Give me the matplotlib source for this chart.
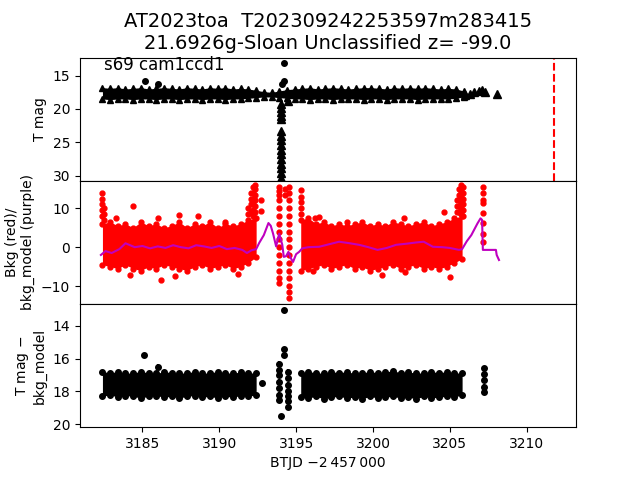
import matplotlib
matplotlib.use("Agg")
import matplotlib.pyplot as plt

# ---- values ----
# top panel: dense band of upper limits (triangles), sampled edges
t_top = [3182.4, 3182.9, 3183.4, 3183.9, 3184.4, 3184.9, 3185.4, 3185.9, 3186.4, 3186.9,
         3187.4, 3187.9, 3188.4, 3188.9, 3189.4, 3189.9, 3190.4, 3190.9, 3191.4, 3191.9,
         3192.4, 3192.9, 3193.4, 3193.9, 3194.4, 3194.9, 3195.4, 3195.9, 3196.4, 3196.9,
         3197.4, 3197.9, 3198.4, 3198.9, 3199.4, 3199.9, 3200.4, 3200.9, 3201.4, 3201.9,
         3202.4, 3202.9, 3203.4, 3203.9, 3204.4, 3204.9, 3205.4, 3205.9]
top_hi = [16.8, 16.9, 16.8, 17.0, 16.9, 16.8, 17.0, 16.9, 16.8, 16.9,
          17.0, 16.8, 16.9, 17.0, 16.8, 16.9, 16.8, 17.0, 16.9, 17.0,
          17.2, 17.4, 17.5, 17.3, 17.1, 17.0, 16.9, 16.8, 17.0, 16.9,
          16.8, 16.9, 17.0, 16.9, 16.8, 16.8, 16.9, 17.0, 16.8, 16.9,
          16.8, 16.9, 16.8, 16.9, 17.0, 16.9, 17.0, 17.3]
top_lo = [18.5, 18.6, 18.5, 18.5, 18.6, 18.5, 18.5, 18.6, 18.5, 18.5,
          18.6, 18.5, 18.5, 18.6, 18.5, 18.5, 18.6, 18.5, 18.5, 18.4,
          18.3, 18.2, 18.2, 18.3, 18.4, 18.5, 18.5, 18.6, 18.5, 18.5,
          18.6, 18.5, 18.5, 18.5, 18.6, 18.5, 18.5, 18.6, 18.5, 18.5,
          18.5, 18.6, 18.5, 18.5, 18.5, 18.5, 18.4, 18.2]
lim_t = [3194.0, 3194.0, 3194.0, 3194.0, 3194.0, 3194.0, 3194.0, 3194.0, 3194.0, 3194.0,
         3194.0, 3194.0, 3194.0, 3194.0, 3194.0, 3194.0, 3194.5,
         3206.0, 3206.3, 3206.6, 3206.9, 3207.1, 3207.3, 3208.1]
lim_mag = [19.2, 19.8, 20.4, 21.0, 21.5, 23.3, 24.0, 24.7, 25.4, 26.1,
           26.8, 27.5, 28.2, 28.9, 29.6, 30.3, 18.8,
           17.9, 17.7, 17.5, 17.3, 17.2, 17.4, 17.8]
det_t = [3185.2, 3186.0, 3194.2, 3194.2, 3194.1]
det_mag = [15.8, 16.3, 13.05, 15.8, 16.3]
t_event = 3211.75

# middle panel: background (red) band edges per orbit and model (purple)
t1 = [3182.4, 3182.9, 3183.4, 3183.9, 3184.4, 3184.9, 3185.4, 3185.9, 3186.4, 3186.9,
      3187.4, 3187.9, 3188.4, 3188.9, 3189.4, 3189.9, 3190.4, 3190.9, 3191.4, 3191.9, 3192.4]
t2 = [3195.3, 3195.8, 3196.3, 3196.8, 3197.3, 3197.8, 3198.3, 3198.8, 3199.3, 3199.8,
      3200.3, 3200.8, 3201.3, 3201.8, 3202.3, 3202.8, 3203.3, 3203.8, 3204.3, 3204.8,
      3205.3, 3205.8]
bkg_hi1 = [6.0, 6.5, 5.5, 6.0, 5.0, 6.5, 5.5, 6.0, 5.0, 5.5,
           6.5, 5.0, 6.0, 5.5, 6.5, 5.0, 6.0, 5.5, 6.0, 7.0, 7.5]
bkg_lo1 = [-4.5, -5.0, -5.5, -4.5, -5.5, -6.0, -5.0, -5.5, -4.5, -5.0,
           -5.5, -6.0, -5.0, -4.5, -5.5, -5.0, -4.5, -5.5, -5.0, -4.0, -2.5]
bkg_hi2 = [7.0, 7.5, 6.0, 6.5, 5.5, 6.0, 5.5, 6.0, 6.5, 5.5,
           6.0, 5.5, 6.5, 6.0, 5.5, 6.0, 6.5, 5.5, 6.0, 6.5, 7.5, 8.0]
bkg_lo2 = [-6.0, -5.5, -5.0, -4.5, -5.5, -5.0, -4.5, -5.5, -5.0, -6.0,
           -5.5, -5.0, -4.5, -5.5, -5.0, -4.5, -5.5, -5.0, -5.5, -5.0, -4.0, -3.0]
bkg_pt_t = [3183.3, 3184.4, 3184.2, 3186.0, 3186.2, 3187.1, 3187.4, 3188.6, 3190.4, 3191.2,
            3192.7, 3192.7,
            3193.9, 3193.9, 3193.9, 3193.9, 3193.9, 3193.9, 3193.9, 3193.9, 3193.9, 3193.9,
            3193.9, 3193.9, 3193.9, 3193.9, 3193.9,
            3194.55, 3194.55, 3194.55, 3194.55, 3194.55, 3194.55, 3194.55, 3194.55, 3194.55,
            3194.55, 3194.55, 3194.55, 3194.55, 3194.55, 3194.55, 3194.55,
            3194.25, 3194.25, 3196.2, 3196.1, 3196.5, 3198.3, 3200.6, 3202.0, 3202.1, 3204.6,
            3205.0,
            3207.15, 3207.15, 3207.15, 3207.15, 3207.15, 3207.15, 3207.15, 3207.15]
bkg_pt = [7.6, 10.6, -7.2, 7.4, -8.5, -7.5, 8.3, 8.0, 6.5, -6.8,
          12.1, 9.3,
          15.5, 14.5, 13.5, 12.0, 10.0, 8.0, 6.0, 4.0, 2.0, 0.0,
          -2.0, -4.0, -6.0, -8.0, -9.2,
          15.5, 14.0, 12.0, 10.0, 8.0, 6.0, 4.0, 2.0, 0.0,
          -2.0, -4.0, -6.0, -8.0, -10.0, -11.5, -13.0,
          15.0, 13.5, 7.6, -6.0, 7.7, 6.5, -7.2, 7.6, -6.5, 9.1,
          -7.7,
          15.5, 14.0, 12.1, 11.3, 8.8, 6.2, 3.5, 1.4]
# steep rises at the orbit edges (columns of red points)
spike_t = [3182.35, 3182.35, 3182.35, 3182.35, 3182.35, 3182.5, 3182.5, 3182.5,
           3191.9, 3191.9, 3192.05, 3192.05, 3192.05, 3192.05,
           3192.2, 3192.2, 3192.2, 3192.2, 3192.2, 3192.2,
           3192.35, 3192.35, 3192.35, 3192.35, 3192.35, 3192.35, 3192.35,
           3195.35, 3195.35, 3195.35, 3195.35, 3195.35,
           3205.45, 3205.45, 3205.45, 3205.6, 3205.6, 3205.6, 3205.6, 3205.6,
           3205.75, 3205.75, 3205.75, 3205.75, 3205.75, 3205.75,
           3205.85, 3205.85, 3205.85, 3205.85, 3205.85, 3205.85]
spike_bkg = [14.0, 12.5, 11.0, 9.5, 8.0, 10.0, 8.5, 7.0,
             8.5, 10.0, 9.0, 11.0, 12.5, 14.0,
             15.5, 14.0, 12.5, 11.0, 9.5, 8.0,
             16.0, 15.0, 13.5, 12.0, 10.5, 9.0, 7.5,
             14.7, 13.0, 11.5, 10.0, 8.5,
             9.0, 10.5, 12.0, 15.0, 13.5, 12.0, 10.5, 9.0,
             16.0, 14.5, 13.0, 11.5, 10.0, 8.5,
             15.5, 14.0, 12.5, 11.0, 9.5, 8.0]
t_mod = [3182.3, 3182.6, 3183.0, 3183.5, 3183.9, 3184.5, 3185.0, 3185.5, 3186.0, 3186.5,
         3187.0, 3187.5, 3188.0, 3188.5, 3189.0, 3189.5, 3190.0, 3190.5, 3191.0, 3191.5,
         3191.8, 3192.1, 3192.4, 3192.6, 3192.9, 3193.2, 3193.35, 3193.5, 3193.7, 3193.9,
         3194.1, 3194.2, 3194.35, 3194.5, 3194.65, 3194.8, 3195.0, 3195.2, 3195.4, 3195.8,
         3196.5, 3197.2, 3197.8, 3198.5, 3199.1, 3199.7, 3200.3, 3200.9, 3201.5, 3202.2,
         3202.8, 3203.3, 3203.9, 3204.5, 3205.0, 3205.6, 3205.8, 3206.1, 3206.4, 3206.8,
         3207.0, 3207.1, 3207.15, 3208.0, 3208.05, 3208.2]
bkg_mod = [-2.0, -1.0, -1.5, -0.5, 1.0, 0.0, 0.3, -0.3, 0.2, -0.2,
           0.5, 0.0, -0.3, 0.5, 0.2, -0.2, 0.3, -0.5, -0.2, -0.7,
           -1.5, -0.8, -0.5, 1.1, 3.1, 6.2, 5.5, 3.5, 0.2, 3.5,
           0.6, -2.5, -2.3, -1.2, -2.8, -3.8, -1.8, -1.2, -0.3, 0.0,
           0.1, 0.8, 1.4, 1.0, 0.6, 0.0, -0.7, -0.2, 0.6, 0.9,
           1.2, 1.4, 0.1, 0.0, -0.2, -0.7, -0.5, 1.5, 3.1, 6.1,
           7.4, 7.0, -0.7, -0.7, -2.0, -3.3]

# bottom panel: T mag - bkg_model band edges and isolated points
mag_hi1 = [16.8, 16.85, 16.8, 16.9, 16.85, 16.8, 16.85, 16.9, 16.8, 16.85,
           16.9, 16.85, 16.8, 16.9, 16.85, 16.8, 16.85, 16.9, 16.8, 16.85, 16.9]
mag_lo1 = [18.3, 18.2, 18.35, 18.25, 18.3, 18.4, 18.3, 18.25, 18.35, 18.3,
           18.4, 18.3, 18.25, 18.35, 18.3, 18.4, 18.3, 18.35, 18.25, 18.3, 18.2]
mag_hi2 = [16.85, 16.8, 16.85, 16.9, 16.8, 16.85, 16.8, 16.9, 16.85, 16.8,
           16.85, 16.8, 16.75, 16.85, 16.8, 16.9, 16.85, 16.8, 16.85, 16.8, 16.85, 16.9]
mag_lo2 = [18.35, 18.4, 18.3, 18.45, 18.35, 18.3, 18.4, 18.35, 18.45, 18.3,
           18.4, 18.35, 18.3, 18.4, 18.35, 18.45, 18.3, 18.4, 18.35, 18.3, 18.35, 18.2]
diff_pt_t = [3185.1, 3186.0, 3192.8, 3194.2, 3194.2, 3194.2, 3194.0,
             3193.9, 3193.9, 3193.9, 3193.9, 3193.9, 3193.9, 3193.9,
             3194.5, 3194.5, 3194.5, 3194.5, 3194.5, 3194.5, 3194.5,
             3207.2, 3207.2, 3207.2, 3207.2, 3207.2]
diff_pt = [15.8, 16.5, 17.5, 13.04, 15.44, 15.8, 19.5,
           16.3, 16.7, 17.0, 17.4, 17.8, 18.2, 18.5,
           16.8, 17.2, 17.6, 18.0, 18.3, 18.6, 18.95,
           16.6, 16.95, 17.3, 17.7, 18.05]

fig, (ax0, ax1, ax2) = plt.subplots(3, 1, sharex=True, figsize=(6.4, 4.8), dpi=100)
fig.subplots_adjust(hspace=0)

# top
ax0.fill_between(t_top, top_hi, top_lo, color="k", lw=0)
ax0.plot(t_top, top_hi, "k^", ms=5, ls="none")
ax0.plot(t_top, top_lo, "k^", ms=5, ls="none")
ax0.plot(lim_t, lim_mag, "k^", ms=6, ls="none")
ax0.errorbar(det_t, det_mag, yerr=0.1, fmt="ko", ms=4)
ax0.axvline(t_event, color="r", ls="--", lw=1.5)
ax0.set_ylim(30.76, 12.3)
ax0.set_yticks([15, 20, 25, 30])
ax0.set_ylabel("T mag")
ax0.text(0.048, 0.90, "s69 cam1ccd1", transform=ax0.transAxes, fontsize=12)
ax0.set_title("AT2023toa  T202309242253597m283415\n21.6926g-Sloan Unclassified z= -99.0",
              fontsize=14)

# middle
ax1.fill_between(t1, bkg_hi1, bkg_lo1, color="r", lw=0)
ax1.fill_between(t2, bkg_hi2, bkg_lo2, color="r", lw=0)
for tt, hi, lo in [(t1, bkg_hi1, bkg_lo1), (t2, bkg_hi2, bkg_lo2)]:
    ax1.plot(tt, hi, "ro", ms=3.5)
    ax1.plot(tt, lo, "ro", ms=3.5)
ax1.plot(bkg_pt_t, bkg_pt, "ro", ms=3.5, ls="none")
ax1.plot(spike_t, spike_bkg, "ro", ms=3.5, ls="none")
ax1.plot(t_mod, bkg_mod, color="m", lw=1.5)
ax1.set_ylim(-14.6, 17.05)
ax1.set_yticks([-10, 0, 10])
ax1.set_ylabel("Bkg (red)/\nbkg_model (purple)")

# bottom
ax2.fill_between(t1, mag_hi1, mag_lo1, color="k", lw=0)
ax2.fill_between(t2, mag_hi2, mag_lo2, color="k", lw=0)
for tt, hi, lo in [(t1, mag_hi1, mag_lo1), (t2, mag_hi2, mag_lo2)]:
    ax2.plot(tt, hi, "ko", ms=4)
    ax2.plot(tt, lo, "ko", ms=4)
ax2.errorbar(diff_pt_t, diff_pt, yerr=0.15, fmt="ko", ms=4)
ax2.set_ylim(20.18, 12.67)
ax2.set_yticks([14, 16, 18, 20])
ax2.set_ylabel("T mag $-$\nbkg_model")
ax2.set_xlim(3180.94, 3213.21)
ax2.set_xlabel("BTJD \u22122\u2009457\u2009000")

plt.savefig("out.png")
